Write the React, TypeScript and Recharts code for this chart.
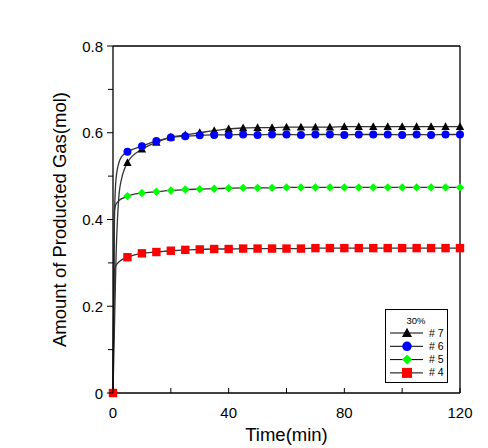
import React from "react";
import { LineChart, Line, XAxis, YAxis, ReferenceLine, Legend } from "recharts";

const times = [0, 0.5, 1, 2, 3, 4, 5, 10, 15, 20, 25, 30, 35, 40, 45, 50, 55, 60, 65, 70, 75, 80, 85, 90, 95, 100, 105, 110, 115, 120];
const s7 = [0, 0.15, 0.3, 0.45, 0.495, 0.517, 0.531, 0.562, 0.578, 0.59, 0.595, 0.6, 0.605, 0.609, 0.611, 0.612, 0.612, 0.613, 0.613, 0.613, 0.613, 0.614, 0.614, 0.614, 0.614, 0.614, 0.614, 0.614, 0.614, 0.614];
const s6 = [0, 0.4, 0.49, 0.53, 0.545, 0.552, 0.556, 0.569, 0.581, 0.589, 0.592, 0.594, 0.595, 0.595, 0.596, 0.595, 0.596, 0.596, 0.595, 0.596, 0.596, 0.595, 0.596, 0.596, 0.596, 0.595, 0.596, 0.595, 0.596, 0.596];
const s5 = [0, 0.42, 0.435, 0.443, 0.448, 0.451, 0.454, 0.461, 0.464, 0.467, 0.469, 0.47, 0.471, 0.472, 0.473, 0.473, 0.473, 0.474, 0.474, 0.474, 0.474, 0.474, 0.474, 0.474, 0.474, 0.474, 0.474, 0.474, 0.474, 0.474];
const s4 = [0, 0.28, 0.293, 0.302, 0.307, 0.31, 0.313, 0.322, 0.325, 0.328, 0.33, 0.331, 0.332, 0.332, 0.333, 0.333, 0.333, 0.333, 0.333, 0.334, 0.334, 0.334, 0.334, 0.334, 0.334, 0.334, 0.334, 0.334, 0.334, 0.334];

const xTicks = [0, 20, 40, 60, 80, 100, 120];
const yTicks = [0, 0.1, 0.2, 0.3, 0.4, 0.5, 0.6, 0.7, 0.8];
const legendTitle = "30%";

const series = [
  { key: "s7", name: "# 7", color: "#000000", shape: "triangle" },
  { key: "s6", name: "# 6", color: "#0000ff", shape: "circle" },
  { key: "s5", name: "# 5", color: "#00ff00", shape: "diamond" },
  { key: "s4", name: "# 4", color: "#ff0000", shape: "square" },
];

const data = times.map((t, i) => ({ t, s7: s7[i], s6: s6[i], s5: s5[i], s4: s4[i] }));

const FONT = "Arial, 'Liberation Sans', sans-serif";

function Marker({ shape, cx, cy, color, s }: { shape: string; cx: number; cy: number; color: string; s: number }) {
  if (shape === "triangle") {
    return <polygon points={`${cx},${cy - s * 1.05} ${cx - s},${cy + s * 0.8} ${cx + s},${cy + s * 0.8}`} fill={color} />;
  }
  if (shape === "circle") {
    return <circle cx={cx} cy={cy} r={s * 0.95} fill={color} />;
  }
  if (shape === "diamond") {
    return <polygon points={`${cx},${cy - s} ${cx + s},${cy} ${cx},${cy + s} ${cx - s},${cy}`} fill={color} />;
  }
  return <rect x={cx - s} y={cy - s} width={s * 2} height={s * 2} fill={color} />;
}

const makeDot = (shape: string, color: string) => (props: any) => {
  const { cx, cy, payload, index } = props;
  if (payload.t % 5 !== 0) return <g key={`d${index}`} />;
  return (
    <g key={`d${index}`}>
      <Marker shape={shape} cx={cx} cy={cy} color={color} s={4.2} />
    </g>
  );
};

const XTick = (props: any) => {
  const { x, y, payload } = props;
  const v = payload.value;
  const major = v % 40 === 0;
  return (
    <g>
      <line x1={x} x2={x} y1={y} y2={y - 5} stroke="#000" strokeWidth={1} />
      {major && (
        <text x={x} y={y + 25} textAnchor="middle" fontSize={15} fontFamily={FONT} fill="#000">
          {v}
        </text>
      )}
    </g>
  );
};

const YTick = (props: any) => {
  const { x, y, payload } = props;
  const v = payload.value;
  const major = Math.round(v * 10) % 2 === 0;
  return (
    <g>
      <line x1={x} x2={x - (major ? 6 : 5)} y1={y} y2={y} stroke="#000" strokeWidth={1} />
      {major && (
        <text x={x - 10} y={y + 5.5} textAnchor="end" fontSize={15} fontFamily={FONT} fill="#000">
          {v === 0 ? "0" : v.toFixed(1)}
        </text>
      )}
    </g>
  );
};

const LegendBox = () => (
  <svg width={63} height={74} style={{ display: "block" }}>
    <rect x={0.5} y={0.5} width={62} height={73} fill="#fff" stroke="#000" strokeWidth={1} />
    <text x={31} y={15} textAnchor="middle" fontSize={9.5} fontFamily={FONT} fill="#000">
      {legendTitle}
    </text>
    {series.map((s, i) => {
      const cy = 24 + i * 13.3;
      return (
        <g key={s.key}>
          <line x1={5} x2={38} y1={cy} y2={cy} stroke="#000" strokeWidth={1} />
          <Marker shape={s.shape} cx={22} cy={cy} color={s.color} s={5} />
          <text x={44} y={cy + 3.5} fontSize={10.5} fontFamily={FONT} fill="#000">
            {s.name}
          </text>
        </g>
      );
    })}
  </svg>
);

export default function App() {
  return (
    <div style={{ position: "absolute", left: 0, top: 0, width: 488, height: 448, background: "#fff" }}>
      <LineChart width={488} height={448} data={data} margin={{ top: 46, right: 28, bottom: 0, left: 0 }}>
        <XAxis
          dataKey="t"
          type="number"
          domain={[0, 120]}
          ticks={xTicks}
          interval={0}
          tickSize={0}
          tickMargin={0}
          tickLine={false}
          tick={<XTick />}
          height={55}
          axisLine={{ stroke: "#000", strokeWidth: 1.3 }}
          label={{ value: "Time(min)", position: "insideBottom", offset: 7, fontSize: 18.5, fontFamily: FONT, fill: "#000" }}
        />
        <YAxis
          type="number"
          domain={[0, 0.8]}
          ticks={yTicks}
          interval={0}
          tickSize={0}
          tickMargin={0}
          tickLine={false}
          tick={<YTick />}
          width={113}
          axisLine={{ stroke: "#000", strokeWidth: 1.3 }}
          label={{ value: "Amount of Producted Gas(mol)", angle: -90, position: "insideLeft", offset: 59, fontSize: 18.5, fontFamily: FONT, fill: "#000", style: { textAnchor: "middle" } }}
        />
        <ReferenceLine y={0.8} stroke="#000" strokeWidth={1.3} />
        <ReferenceLine x={120} stroke="#000" strokeWidth={1.3} />
        {series.map((s) => (
          <Line
            key={s.key}
            dataKey={s.key}
            name={s.name}
            type="monotone"
            stroke="#333"
            strokeWidth={1.3}
            dot={makeDot(s.shape, s.color)}
            activeDot={false}
            isAnimationActive={false}
          />
        ))}
        <Legend
          layout="vertical"
          align="center"
          verticalAlign="middle"
          content={<LegendBox />}
          wrapperStyle={{ position: "absolute", left: 385, top: 309, width: 63, height: 74 }}
        />
      </LineChart>
    </div>
  );
}
